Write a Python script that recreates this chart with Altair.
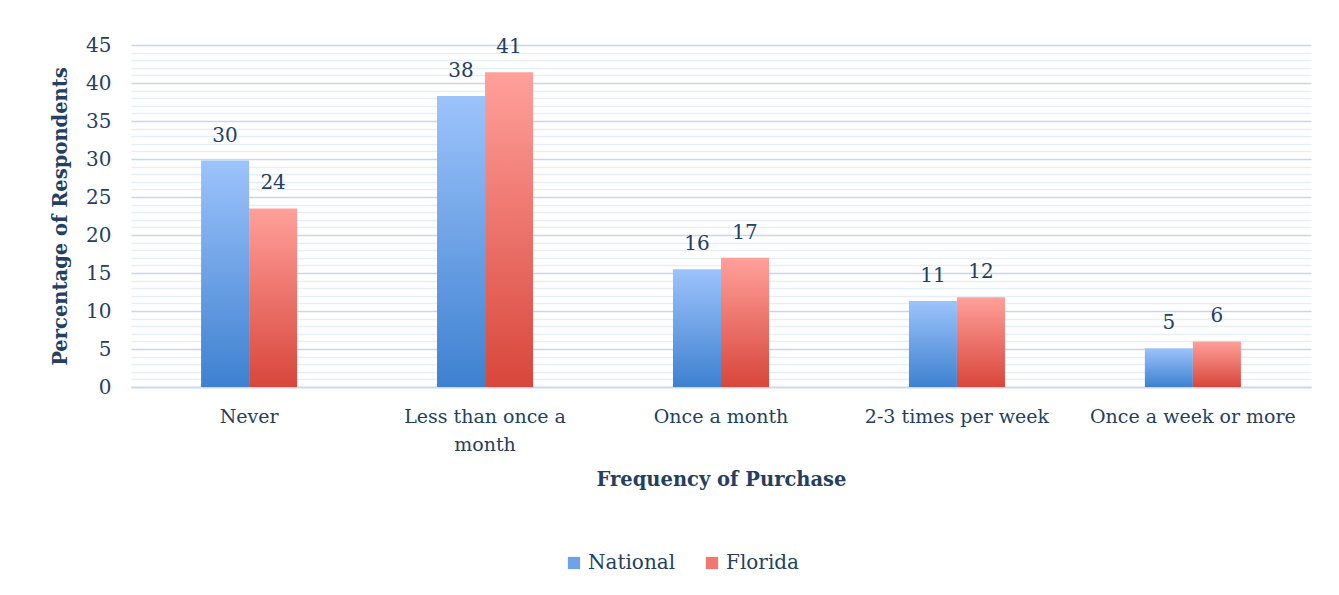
import altair as alt
import pandas as pd

categories = ["Never", "Less than once a month", "Once a month", "2-3 times per week", "Once a week or more"]
series_names = ["National", "Florida"]
national = [29.8, 38.3, 15.5, 11.3, 5.1]
florida = [23.5, 41.4, 17.0, 11.8, 6.0]
y_ticks = list(range(0, 46))

rows = []
for c, n, f in zip(categories, national, florida):
    rows.append({"category": c, "series": "National", "value": n})
    rows.append({"category": c, "series": "Florida", "value": f})
df = pd.DataFrame(rows)

NAVY = "#243f60"
FONT = "DejaVu Serif"

x_enc = alt.X(
    "category:N", sort=categories,
    scale=alt.Scale(paddingInner=0.593, paddingOuter=0.297),
    axis=alt.Axis(
        title="Frequency of Purchase", labelAngle=0, labelFont=FONT, labelFontSize=19,
        labelColor=NAVY, labelPadding=20, labelLineHeight=28, ticks=False, labelLimit=0,
        domainColor="#c6d8ef", domainWidth=1.6,
        labelExpr="datum.label == 'Less than once a month' ? ['Less than once a', 'month'] : datum.label",
        titleFont=FONT, titleFontSize=19.5, titleFontWeight="bold", titleColor=NAVY, titlePadding=16,
    ),
)
xo_enc = alt.XOffset("series:N", sort=series_names,
                     scale=alt.Scale(domain=series_names, paddingInner=0, paddingOuter=0))
y_enc = alt.Y(
    "value:Q", scale=alt.Scale(domain=[0, 45], nice=False, zero=True),
    axis=alt.Axis(
        values=y_ticks, title="Percentage of Respondents", domain=False, ticks=False,
        labelFont=FONT, labelFontSize=20, labelColor=NAVY, labelPadding=20,
        labelExpr="datum.value % 5 === 0 ? datum.label : ''",
        gridColor={"condition": {"test": "datum.value % 5 === 0", "value": "#c6d8ef"}, "value": "#e6eef8"},
        gridWidth={"condition": {"test": "datum.value % 5 === 0", "value": 1.6}, "value": 1.3},
        titleFont=FONT, titleFontSize=19.5, titleFontWeight="bold", titleColor=NAVY,
        titleX=-71, titleY=171, titleAngle=-90, titleAlign="center", titleBaseline="middle",
    ),
)

base = alt.Chart(df).encode(x=x_enc, xOffset=xo_enc, y=y_enc)

grad_nat = alt.Gradient(gradient="linear", x1=0, x2=0, y1=0, y2=1,
                        stops=[alt.GradientStop(offset=0, color="#9cc3fb"),
                               alt.GradientStop(offset=1, color="#3e81d0")])
grad_fl = alt.Gradient(gradient="linear", x1=0, x2=0, y1=0, y2=1,
                       stops=[alt.GradientStop(offset=0, color="#ffa09a"),
                              alt.GradientStop(offset=1, color="#d8463b")])

bars_nat = base.transform_filter(alt.datum.series == "National").mark_bar(color=grad_nat)
bars_fl = base.transform_filter(alt.datum.series == "Florida").mark_bar(color=grad_fl)

labels = base.mark_text(dy=-19, baseline="alphabetic", font=FONT, fontSize=20, color=NAVY).encode(
    text=alt.Text("value:Q", format=".0f")
)

legend_layer = base.mark_point(size=0, opacity=0, filled=True).encode(
    color=alt.Color("series:N", sort=series_names,
                    scale=alt.Scale(domain=series_names, range=["#6fa2e8", "#ef7870"]),
                    legend=alt.Legend(
                        title=None, orient="none", legendX=433, legendY=508, direction="horizontal",
                        symbolType="square", symbolSize=150, symbolOpacity=1, symbolStrokeWidth=0,
                        labelFont=FONT, labelFontSize=20, labelColor=NAVY, columnPadding=26,
                        labelOffset=4,
                    ))
)

chart = alt.layer(bars_nat, bars_fl, labels, legend_layer).properties(
    width=1180, height=342,
    autosize=alt.AutoSizeParams(type="none"),
    padding={"left": 123, "top": 37, "right": 18, "bottom": 198},
    background="white",
).configure_view(stroke=None)

chart.save("out.html", embed_options={"renderer": "svg", "actions": False})
